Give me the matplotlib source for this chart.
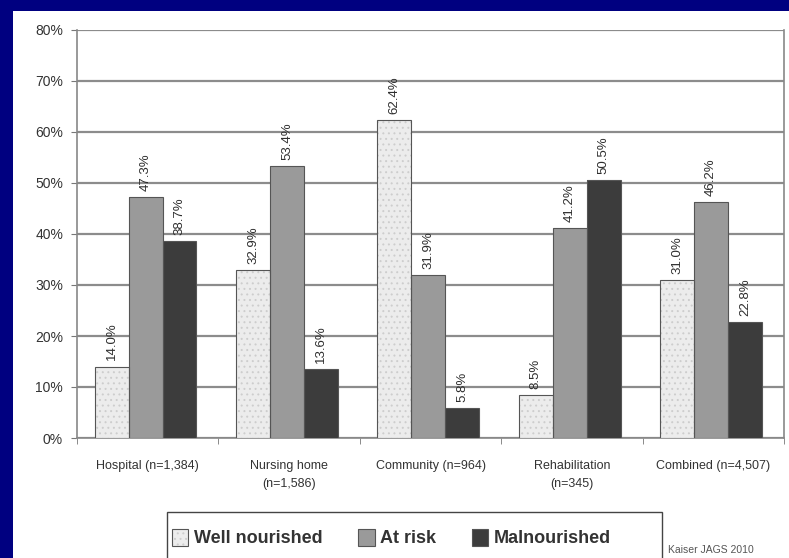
import numpy as np
import matplotlib.pyplot as plt
from matplotlib.patches import Rectangle

settings = ["Hospital (n=1,384)", "Nursing home\n(n=1,586)", "Community (n=964)",
            "Rehabilitation\n(n=345)", "Combined (n=4,507)"]
well_nourished = [14.0, 32.9, 62.4, 8.5, 31.0]
at_risk = [47.3, 53.4, 31.9, 41.2, 46.2]
malnourished = [38.7, 13.6, 5.8, 50.5, 22.8]
series_names = ["Well nourished", "At risk", "Malnourished"]
y_ticks = [0, 10, 20, 30, 40, 50, 60, 70, 80]

fonts = ['Liberation Sans Narrow', 'Liberation Sans', 'DejaVu Sans']
plt.rcParams['font.family'] = fonts
plt.rcParams['hatch.linewidth'] = 0.7

fig = plt.figure(figsize=(7.89, 5.58), dpi=100)
fig.patch.set_facecolor('#000080')
# white slide panel inside the navy frame
fig.patches.append(Rectangle((13 / 789, 0), 1, 1 - 11 / 558, transform=fig.transFigure,
                             facecolor='white', edgecolor='none', zorder=-5))

ax = fig.add_axes([77 / 789, 1 - 438 / 558, 707 / 789, 408 / 558])
ax.set_facecolor('white')

x = np.arange(len(settings))
w = 0.24
series = [well_nourished, at_risk, malnourished]
faces = ['#ececec', '#9a9a9a', '#3c3c3c']
hatches = ['...', None, None]

handles = []
for i, (vals, fc, h, name) in enumerate(zip(series, faces, hatches, series_names)):
    pos = x + (i - 1) * w - 0.015
    # fill (with faint dotted texture), then a separate dark outline
    fill = ax.bar(pos, vals, w, color=fc, hatch=h, edgecolor='#cdcdcd', linewidth=0,
                  zorder=3)
    edge = ax.bar(pos, vals, w, fill=False, edgecolor='#555555', linewidth=0.8, zorder=3.5)
    handles.append((fill[0], edge[0]))
    for p, v in zip(pos, vals):
        ax.text(p, v + 1.2, f"{v:.1f}%", rotation=90, ha='center', va='bottom',
                fontsize=9.5, color='#2e2e2e', zorder=4)

ax.set_ylim(0, 80)
ax.set_xlim(-0.5, len(settings) - 0.5)
ax.set_yticks(y_ticks)
ax.set_yticklabels([f"{t}%" for t in y_ticks], fontsize=10, color='#333333')
ax.yaxis.grid(True, color='#8c8c8c', linewidth=1.6, zorder=0)
ax.set_axisbelow(True)

# category labels at centres, tick marks at group boundaries
ax.set_xticks(x)
ax.set_xticklabels(settings, fontsize=9, color='#333333', linespacing=1.6)
ax.tick_params(axis='x', length=0, pad=16)
ax.set_xticks(np.arange(len(settings) + 1) - 0.5, minor=True)
ax.tick_params(axis='x', which='minor', length=4, color='#777777')
ax.tick_params(axis='y', length=4, color='#777777', pad=6)

for s in ['left', 'right', 'bottom']:
    ax.spines[s].set_color('#888888')
    ax.spines[s].set_linewidth(1.2)
ax.spines['top'].set_visible(False)

# legend box runs off the bottom edge of the slide
fig.patches.append(Rectangle((167 / 789, -0.05), 495 / 789, 0.05 + 1 - 512 / 558,
                             transform=fig.transFigure, facecolor='white',
                             edgecolor='#444444', linewidth=1.0, zorder=1))
leg = fig.legend(handles, series_names, loc='center left',
                 bbox_to_anchor=(172 / 789, 1 - 538 / 558), ncol=3, frameon=False,
                 prop={'family': fonts, 'size': 13, 'weight': 'bold'},
                 handlelength=0.9, handleheight=1.1, handletextpad=0.3,
                 columnspacing=2.0, borderpad=0, borderaxespad=0)
leg.set_zorder(2)
for t in leg.get_texts():
    t.set_color('#333333')

fig.text(668 / 789, 1 - 550 / 558, "Kaiser JAGS 2010", fontsize=7.5, color='#555555',
         va='center', ha='left')

fig.savefig('out.png', dpi=100, facecolor=fig.get_facecolor())
